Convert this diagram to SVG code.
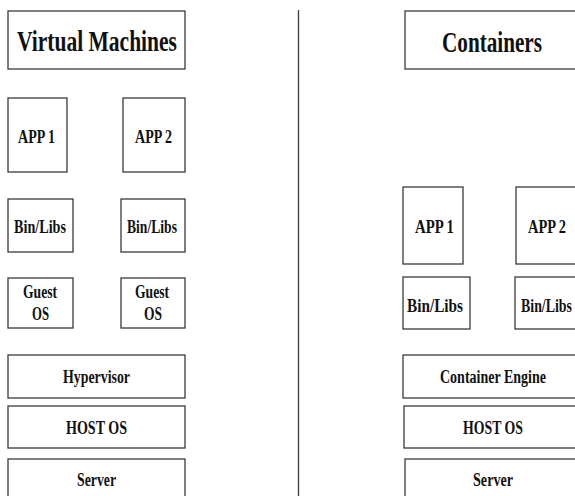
<svg xmlns="http://www.w3.org/2000/svg" width="575" height="496" viewBox="0 0 575 496">
  <style>
    .box { fill: #ffffff; stroke: #3a3a3a; stroke-width: 1.3; }
    .lbl { font-family: "Liberation Serif", "Times New Roman", serif; font-weight: bold; font-size: 18px; fill: #111111; }
    .ttl { font-family: "Liberation Serif", "Times New Roman", serif; font-weight: bold; font-size: 29px; fill: #111111; }
    .divider { stroke: #3a3a3a; stroke-width: 1.3; }
  </style>
  <rect width="575" height="496" fill="#ffffff"/>

  <!-- Virtual machine stack -->
  <g id="vm-title"><rect class="box" x="8" y="11" width="177" height="58"/><text class="ttl" x="17" y="51" textLength="160" lengthAdjust="spacingAndGlyphs">Virtual Machines</text></g>
  <g id="vm-app1"><rect class="box" x="8" y="98" width="59" height="74"/><text class="lbl" x="18" y="143" textLength="37" lengthAdjust="spacingAndGlyphs">APP 1</text></g>
  <g id="vm-app2"><rect class="box" x="123" y="98" width="62" height="74"/><text class="lbl" x="135" y="143" textLength="37" lengthAdjust="spacingAndGlyphs">APP 2</text></g>
  <g id="vm-bins1"><rect class="box" x="8" y="199" width="65" height="53"/><text class="lbl" x="14" y="233" textLength="52" lengthAdjust="spacingAndGlyphs">Bin/Libs</text></g>
  <g id="vm-bins2"><rect class="box" x="121" y="199" width="64" height="53"/><text class="lbl" x="127" y="233" textLength="50" lengthAdjust="spacingAndGlyphs">Bin/Libs</text></g>
  <g id="vm-guest1"><rect class="box" x="8" y="278" width="65" height="50"/><text class="lbl" x="23" y="298" textLength="34" lengthAdjust="spacingAndGlyphs">Guest</text><text class="lbl" x="32" y="320" textLength="17" lengthAdjust="spacingAndGlyphs">OS</text></g>
  <g id="vm-guest2"><rect class="box" x="121" y="278" width="64" height="50"/><text class="lbl" x="135" y="298" textLength="34" lengthAdjust="spacingAndGlyphs">Guest</text><text class="lbl" x="144" y="320" textLength="18" lengthAdjust="spacingAndGlyphs">OS</text></g>
  <g id="vm-hypervisor"><rect class="box" x="8" y="355" width="177" height="43"/><text class="lbl" x="63" y="383" textLength="67" lengthAdjust="spacingAndGlyphs">Hypervisor</text></g>
  <g id="vm-hostos"><rect class="box" x="8" y="406" width="177" height="42"/><text class="lbl" x="66" y="434" textLength="61" lengthAdjust="spacingAndGlyphs">HOST OS</text></g>
  <g id="vm-server"><rect class="box" x="8" y="459" width="177" height="42"/><text class="lbl" x="77" y="486" textLength="39" lengthAdjust="spacingAndGlyphs">Server</text></g>

  <!-- Container stack -->
  <g id="ct-title"><rect class="box" x="405" y="11" width="177" height="58"/><text class="ttl" x="442" y="52" textLength="100" lengthAdjust="spacingAndGlyphs">Containers</text></g>
  <g id="ct-app1"><rect class="box" x="403" y="187" width="60" height="77"/><text class="lbl" x="415" y="233" textLength="39" lengthAdjust="spacingAndGlyphs">APP 1</text></g>
  <g id="ct-app2"><rect class="box" x="516" y="187" width="62" height="77"/><text class="lbl" x="528" y="233" textLength="38" lengthAdjust="spacingAndGlyphs">APP 2</text></g>
  <g id="ct-bins1"><rect class="box" x="403" y="277" width="67" height="52"/><text class="lbl" x="407" y="312" textLength="56" lengthAdjust="spacingAndGlyphs">Bin/Libs</text></g>
  <g id="ct-bins2"><rect class="box" x="515" y="277" width="64" height="52"/><text class="lbl" x="521" y="312" textLength="51" lengthAdjust="spacingAndGlyphs">Bin/Libs</text></g>
  <g id="ct-engine"><rect class="box" x="403" y="355" width="180" height="43"/><text class="lbl" x="440" y="383" textLength="106" lengthAdjust="spacingAndGlyphs">Container Engine</text></g>
  <g id="ct-hostos"><rect class="box" x="404" y="406" width="179" height="42"/><text class="lbl" x="463" y="434" textLength="60" lengthAdjust="spacingAndGlyphs">HOST OS</text></g>
  <g id="ct-server"><rect class="box" x="405" y="459" width="178" height="42"/><text class="lbl" x="473" y="486" textLength="40" lengthAdjust="spacingAndGlyphs">Server</text></g>

  <!-- Divider between the two stacks -->
  <g id="connectors">
    <line class="divider" x1="298.5" y1="10" x2="298.5" y2="496"/>
  </g>
</svg>
